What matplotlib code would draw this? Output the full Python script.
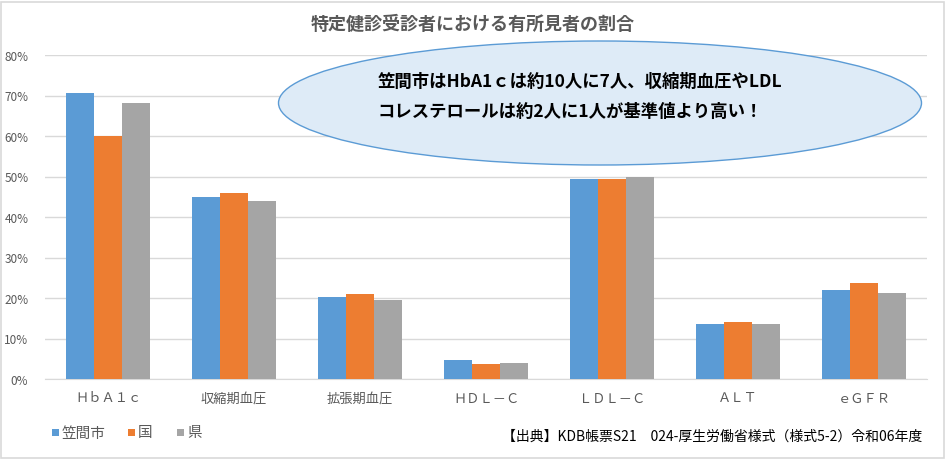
import matplotlib
matplotlib.use("Agg")
import matplotlib.pyplot as plt
from matplotlib.patches import Ellipse, Rectangle
import numpy as np

plt.rcParams['font.family'] = ['Noto Sans CJK JP', 'DejaVu Sans']

categories = ["ＨｂＡ１ｃ", "収縮期血圧", "拡張期血圧", "ＨＤＬ－Ｃ", "ＬＤＬ－Ｃ", "ＡＬＴ", "ｅＧＦＲ"]
kasama = [70.6, 44.9, 20.3, 4.7, 49.5, 13.6, 22.0]
kuni = [60.0, 45.9, 21.0, 3.7, 49.5, 14.1, 23.7]
ken = [68.1, 43.9, 19.5, 4.0, 49.8, 13.6, 21.2]
series_names = ["笠間市", "国", "県"]
colors = ["#5B9BD5", "#ED7D31", "#A5A5A5"]
yticks = [0, 10, 20, 30, 40, 50, 60, 70, 80]

W, H = 947, 460
fig = plt.figure(figsize=(W / 100, H / 100), dpi=100)
# chart border
fig.patches.append(Rectangle((1 / W, 1 / H), (W - 4) / W, (H - 4) / H, transform=fig.transFigure,
                             fill=False, edgecolor="#D9D9D9", linewidth=1.2))

ax = fig.add_axes([45 / W, 1 - 380 / H, (927 - 45) / W, (380 - 56) / H])
x = np.arange(len(categories))
bw = 0.222
for i, (vals, c, n) in enumerate(zip([kasama, kuni, ken], colors, series_names)):
    ax.bar(x + (i - 1) * bw, vals, width=bw, color=c, label=n, zorder=3)

ax.set_xlim(-0.5, len(categories) - 0.5)
ax.set_ylim(0, 80)
ax.set_yticks(yticks)
ax.set_yticklabels([f"{v}%" for v in yticks], fontsize=8.5, color="#595959")
ax.set_xticks(x)
ax.set_xticklabels(categories, fontsize=9.5, color="#595959")
ax.tick_params(axis="both", length=0)
ax.tick_params(axis="y", pad=12)
ax.tick_params(axis="x", pad=9)
ax.yaxis.grid(True, color="#D9D9D9", linewidth=1, zorder=0)
for s in ["top", "right", "left"]:
    ax.spines[s].set_visible(False)
ax.spines["bottom"].set_color("#D9D9D9")

fig.text(473 / W, 1 - 24 / H, "特定健診受診者における有所見者の割合", ha="center", va="center",
         fontsize=13, color="#595959", fontweight="bold")

# callout ellipse
ell = Ellipse((600 / W, 1 - 104 / H), 643 / W, 124 / H, transform=fig.transFigure,
              facecolor="#DEEBF7", edgecolor="#5B9BD5", linewidth=1, zorder=10)
fig.patches.append(ell)
fig.text(378 / W, 1 - 82 / H, "笠間市はHbA1ｃは約10人に7人、収縮期血圧やLDL", ha="left", va="center",
         fontsize=12.5, fontweight="bold", color="black", zorder=11)
fig.text(378 / W, 1 - 112 / H, "コレステロールは約2人に1人が基準値より高い！", ha="left", va="center",
         fontsize=12.5, fontweight="bold", color="black", zorder=11)

# legend
leg_x = [52, 128, 177]
for lx, c, n in zip(leg_x, colors, series_names):
    fig.patches.append(Rectangle((lx / W, 1 - 437 / H), 7 / W, 7 / H, transform=fig.transFigure,
                                 facecolor=c, edgecolor="none"))
    fig.text((lx + 10) / W, 1 - 433.5 / H, n, ha="left", va="center", fontsize=10.5, color="#595959")

fig.text(922 / W, 1 - 437 / H, "【出典】KDB帳票S21　024-厚生労働省様式（様式5-2）令和06年度",
         ha="right", va="center", fontsize=10, color="black")

fig.savefig("out.png", dpi=100)
